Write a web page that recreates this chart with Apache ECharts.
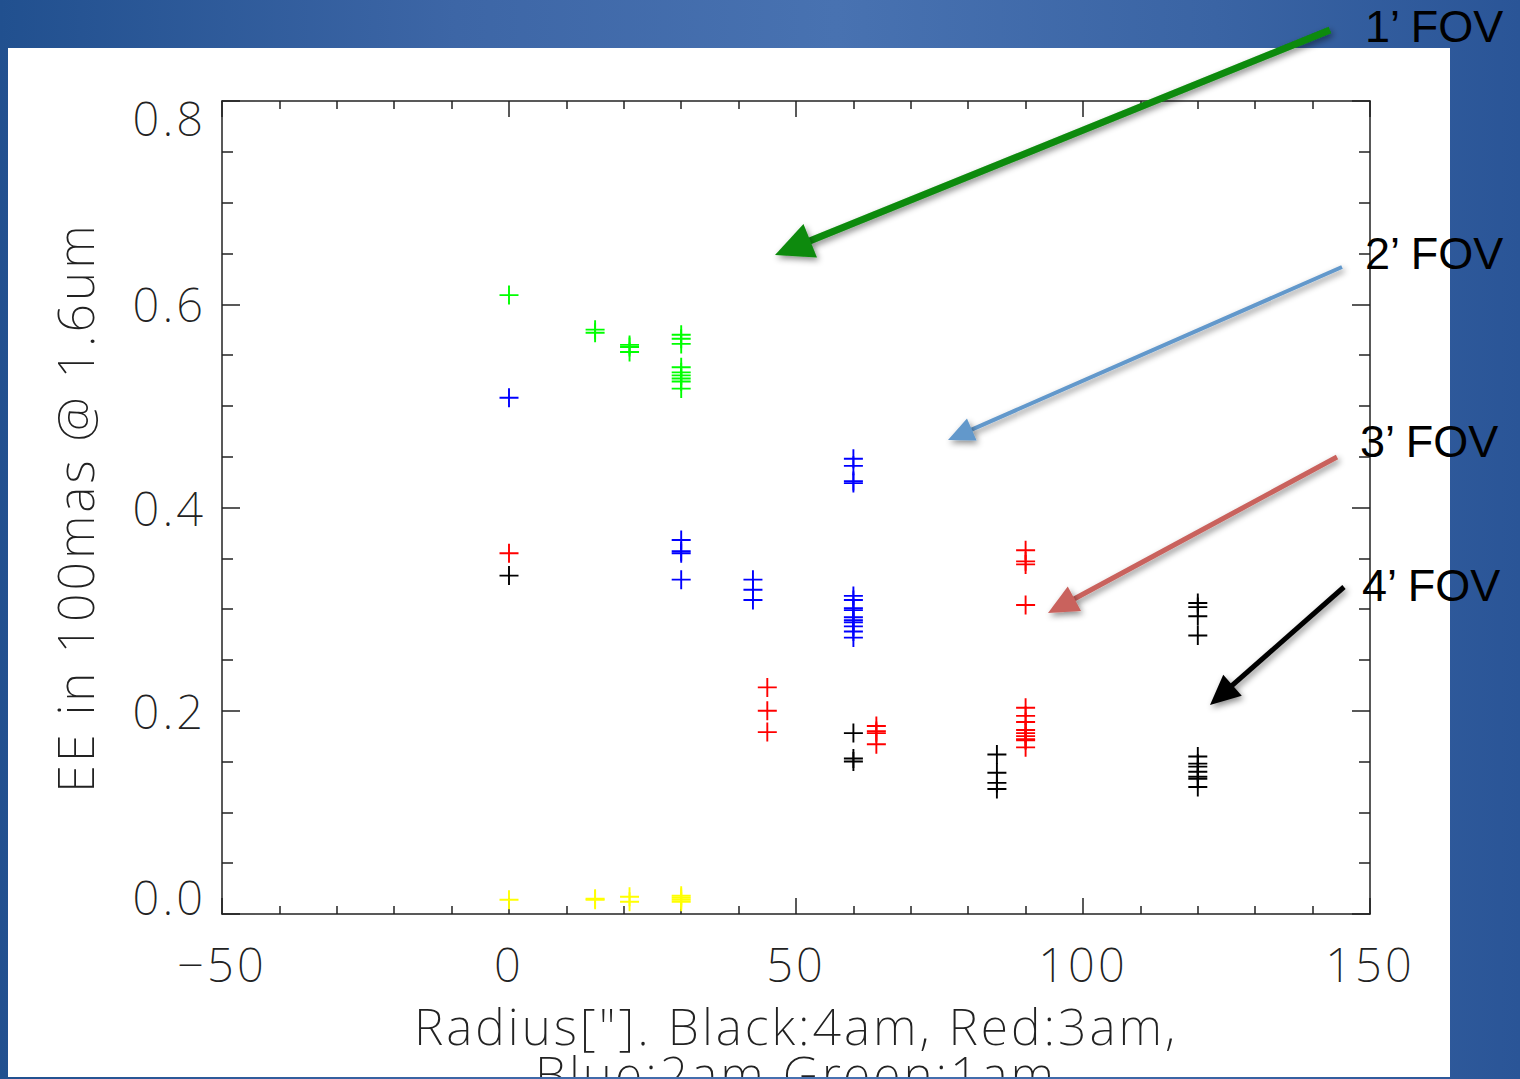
<!DOCTYPE html>
<html>
<head>
<meta charset="utf-8">
<script src="https://cdn.jsdelivr.net/npm/echarts@6.0.0/dist/echarts.min.js"></script>
<style>
  html, body { margin: 0; padding: 0; }
  body {
    width: 1520px; height: 1079px; overflow: hidden;
    background: linear-gradient(90deg, #21508f 0%, #3d66a6 30%, #4872b1 55%, #3a64a4 80%, #2a5597 100%);
  }
  #panel { position: absolute; left: 8px; top: 48px; width: 1442px; height: 1029px; background: #fff; }
  #chart { position: absolute; left: 0; top: 0; width: 1520px; height: 1077px; }
  /* the IDL axis font is wide-spaced */
  #chart text[style*="Noto"] { letter-spacing: 3px; }
</style>
</head>
<body>
<div id="panel"></div>
<div id="chart"></div>
<script>
// [radius, EE] per run
var green = [[0,0.609],[15,0.572],[15,0.575],[21,0.560],[21,0.558],[21,0.553],
  [30,0.570],[30,0.566],[30,0.561],[30,0.538],[30,0.533],[30,0.530],[30,0.527],[30,0.524],[30,0.517]];
var blue = [[0,0.508],[30,0.368],[30,0.357],[30,0.355],[30,0.329],
  [42.5,0.329],[42.5,0.319],[42.5,0.309],
  [60,0.448],[60,0.441],[60,0.426],[60,0.424],[60,0.313],[60,0.309],[60,0.301],[60,0.299],
  [60,0.292],[60,0.289],[60,0.287],[60,0.283],[60,0.278],[60,0.272]];
var red = [[0,0.355],[45,0.223],[45,0.200],[45,0.179],
  [64,0.185],[64,0.180],[64,0.178],[64,0.167],
  [90,0.358],[90,0.347],[90,0.344],[90,0.304],[90,0.203],[90,0.195],[90,0.189],
  [90,0.181],[90,0.178],[90,0.175],[90,0.172],[90,0.171],[90,0.164]];
var black = [[0,0.333],[60,0.178],[60,0.153],[60,0.150],
  [85,0.157],[85,0.139],[85,0.129],[85,0.123],
  [120,0.306],[120,0.302],[120,0.293],[120,0.274],[120,0.155],[120,0.148],[120,0.145],
  [120,0.140],[120,0.135],[120,0.133],[120,0.125]];
var yellow = [[0,0.014],[15,0.014],[15,0.015],[21,0.017],[21,0.012],
  [30,0.016],[30,0.014],[30,0.012],[30,0.018]];

var fovLabels = ['1\u2019 FOV', '2\u2019 FOV', '3\u2019 FOV', '4\u2019 FOV'];

var chart = echarts.init(document.getElementById('chart'), null, { renderer: 'svg' });
var font = '"Noto Sans"';
var textColor = '#222';
var axisColor = '#222';
var plus = 'path://M-1,-0.1H-0.1V-1H0.1V-0.1H1V0.1H0.1V1H-0.1V0.1H-1Z';

function arrow(x1, y1, x2, y2, color, w, hl, hw) {
  var dx = x2 - x1, dy = y2 - y1, len = Math.sqrt(dx*dx + dy*dy);
  var ux = dx / len, uy = dy / len, nx = -uy, ny = ux;
  var bx = x2 - ux * hl, by = y2 - uy * hl;
  var shadow = { shadowBlur: 6, shadowColor: 'rgba(0,0,0,0.45)', shadowOffsetX: 2, shadowOffsetY: 3 };
  return [
    { type: 'line', z: 50, shape: { x1: x1, y1: y1, x2: bx + ux * 2, y2: by + uy * 2 },
      style: Object.assign({ stroke: color, lineWidth: w }, shadow) },
    { type: 'polygon', z: 50, shape: { points: [[x2, y2], [bx + nx * hw, by + ny * hw], [bx - nx * hw, by - ny * hw]] },
      style: Object.assign({ fill: color }, shadow) }
  ];
}

function fovText(x, y, t) {
  return { type: 'text', z: 60, x: x, y: y,
    style: { text: t, font: '45px "Liberation Sans", Arial, sans-serif', fill: '#000', verticalAlign: 'middle' } };
}

var graphics = [].concat(
  arrow(1330, 30, 775, 255, '#0a8a0a', 7, 38, 18),
  arrow(1342, 267, 948, 440, '#6298cb', 4, 26, 12),
  arrow(1337, 457, 1048, 613, '#c9625d', 5, 30, 14),
  arrow(1344, 587, 1210, 705, '#000000', 5, 30, 14),
  [fovText(1365, 26, fovLabels[0]), fovText(1365, 253, fovLabels[1]),
   fovText(1360, 441, fovLabels[2]), fovText(1362, 585, fovLabels[3])]
);

function xAxisCfg(pos, withLabels) {
  return {
    type: 'value', position: pos, min: -50, max: 150, interval: 50,
    axisLine: { show: true, onZero: false, lineStyle: { color: axisColor, width: 1.5 } },
    axisTick: { show: true, inside: true, length: 16, lineStyle: { color: axisColor, width: 1.5 } },
    minorTick: { show: true, splitNumber: 5, length: 8, lineStyle: { color: axisColor, width: 1.5 } },
    splitLine: { show: false }, minorSplitLine: { show: false },
    axisLabel: { show: withLabels, fontFamily: font, fontWeight: 200, fontSize: 47, color: textColor,
      margin: 28, lineHeight: 44,
      formatter: function (v) { return String(v).replace('-', '\u2212'); } },
    name: withLabels ? 'Radius["]. Black:4am, Red:3am,\nBlue:2am Green:1am' : '',
    nameLocation: 'middle', nameGap: 88,
    nameTextStyle: { fontFamily: font, fontWeight: 200, fontSize: 50, color: textColor, lineHeight: 48 }
  };
}

function yAxisCfg(pos, withLabels) {
  return {
    type: 'value', position: pos, min: 0, max: 0.8, interval: 0.2,
    axisLine: { show: true, onZero: false, lineStyle: { color: axisColor, width: 1.5 } },
    axisTick: { show: true, inside: true, length: 18, lineStyle: { color: axisColor, width: 1.5 } },
    minorTick: { show: true, splitNumber: 4, length: 11, lineStyle: { color: axisColor, width: 1.5 } },
    splitLine: { show: false }, minorSplitLine: { show: false },
    axisLabel: { show: withLabels, fontFamily: font, fontWeight: 200, fontSize: 47, color: textColor, margin: 16,
      lineHeight: 34, verticalAlignMinLabel: 'bottom', verticalAlignMaxLabel: 'top',
      formatter: function (v) { return v.toFixed(1); } },
    name: withLabels ? 'EE in 100mas @ 1.6um' : '',
    nameLocation: 'middle', nameGap: 122, nameRotate: 90,
    nameTextStyle: { fontFamily: font, fontWeight: 200, fontSize: 50, color: textColor }
  };
}

function series(name, data, color) {
  return { name: name, type: 'scatter', data: data, symbol: plus, symbolSize: 19,
    itemStyle: { color: color, opacity: 1 }, silent: true };
}

var option = {
  animation: false,
  grid: { left: 222, right: 150, top: 101, bottom: 163, containLabel: false, outerBoundsMode: 'none' },
  xAxis: [xAxisCfg('bottom', true), xAxisCfg('top', false)],
  yAxis: [yAxisCfg('left', true), yAxisCfg('right', false)],
  graphic: { elements: graphics },
  series: [
    series('Yellow', yellow, '#ffff00'),
    series('Black', black, '#000000'),
    series('Red', red, '#ff0000'),
    series('Blue', blue, '#0000ff'),
    series('Green', green, '#00ff00')
  ]
};
chart.setOption(option);
</script>
</body>
</html>
